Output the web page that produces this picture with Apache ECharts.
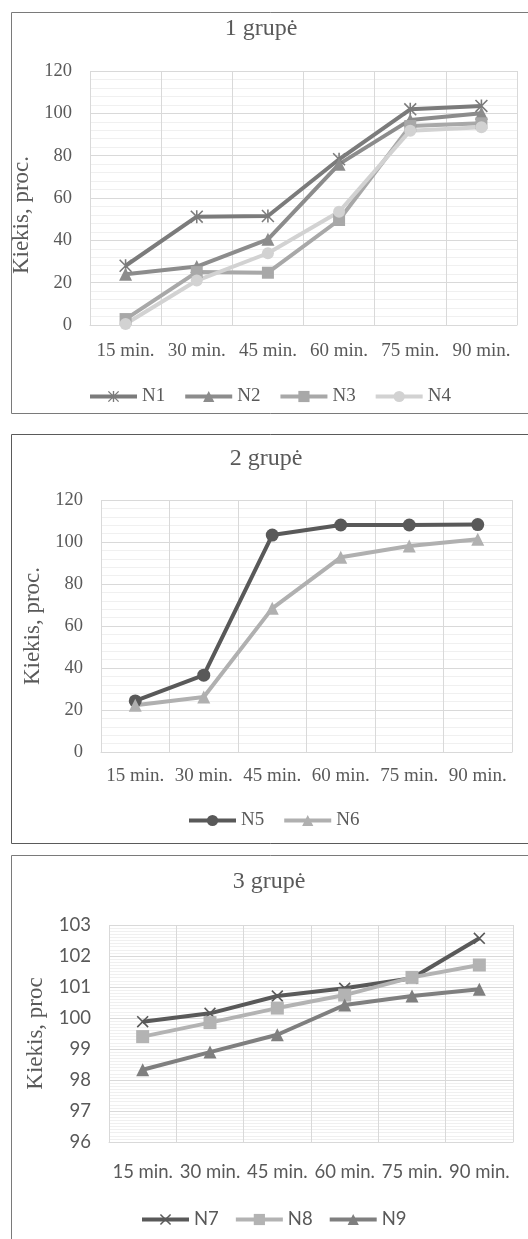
<!DOCTYPE html>
<html>
<head>
<meta charset="utf-8">
<script src="https://cdn.jsdelivr.net/npm/echarts@6/dist/echarts.min.js"></script>
<style>
  html, body { margin: 0; padding: 0; background: #fff; overflow: hidden; }
  #chart { width: 528px; height: 1239px; }
</style>
</head>
<body>
<div id="chart"></div>
<script>
// kategorijos (laikas)
const categories = ['15 min.', '30 min.', '45 min.', '60 min.', '75 min.', '90 min.']

// 1 grupe
const n1 = [28, 51.2, 51.5, 78.3, 101.9, 103.5]
const n2 = [24, 27.6, 40.5, 76, 96.9, 100]
const n3 = [2.8, 25, 24.7, 49.6, 94, 95.3]
const n4 = [0.5, 21, 33.9, 53.5, 91.8, 93.4]
const yTicks1 = [0, 20, 40, 60, 80, 100, 120]

// 2 grupe
const n5 = [24.3, 36.6, 103.3, 108.1, 108.1, 108.3]
const n6 = [22.3, 26.2, 68.4, 92.7, 98.1, 101.3]
const yTicks2 = [0, 20, 40, 60, 80, 100, 120]

// 3 grupe
const n7 = [99.88, 100.15, 100.71, 100.96, 101.28, 102.57]
const n8 = [99.4, 99.85, 100.32, 100.74, 101.31, 101.71]
const n9 = [98.33, 98.9, 99.46, 100.42, 100.71, 100.93]
const yTicks3 = [96, 97, 98, 99, 100, 101, 102, 103]

const SERIF = 'Liberation Serif'
const SANS = 'Lato'
const TXT = '#595959'
const GRID = '#d9d9d9'
const MINOR = '#f0f0f0'

const ASTERISK = 'path://M8.8 0L11.2 0L11.2 20L8.8 20Z M0 1.7L1.7 0L20 18.3L18.3 20Z M18.3 0L20 1.7L1.7 20L0 18.3Z'
const CROSS = 'path://M0 1.9L1.9 0L20 18.1L18.1 20Z M18.1 0L20 1.9L1.9 20L0 18.1Z'

const chart = echarts.init(document.getElementById('chart'))

const xAxisFor = (idx, font, size, margin) => ({
  type: 'category',
  gridIndex: idx,
  data: categories,
  axisTick: { show: false },
  axisLine: { lineStyle: { color: GRID, width: 1 } },
  splitLine: { show: true, lineStyle: { color: GRID, width: 1 } },
  axisLabel: { interval: 0, color: TXT, fontFamily: font, fontSize: size, margin: margin, hideOverlap: false }
})

const yAxisFor = (idx, ticks, font, opts) => ({
  type: 'value',
  gridIndex: idx,
  min: ticks[0],
  max: ticks[ticks.length - 1],
  interval: ticks[1] - ticks[0],
  name: opts.name,
  nameLocation: 'middle',
  nameGap: opts.nameGap,
  nameTextStyle: { color: TXT, fontFamily: SERIF, fontSize: 23, padding: opts.namePad || 0 },
  axisLine: { show: false },
  axisTick: { show: false },
  minorTick: { show: false, splitNumber: opts.minor },
  minorSplitLine: { show: true, lineStyle: { color: MINOR, width: 1 } },
  splitLine: { lineStyle: { color: GRID, width: 1 } },
  axisLabel: { color: TXT, fontFamily: font, fontSize: 18.5, margin: 18 }
})

const line = (name, data, idx, color, symbol, size) => ({
  name: name,
  type: 'line',
  xAxisIndex: idx,
  yAxisIndex: idx,
  data: data,
  symbol: symbol,
  symbolSize: size || 12,
  symbolKeepAspect: true,
  lineStyle: { color: color, width: 4 },
  itemStyle: { color: color },
  emphasis: { disabled: true },
  animation: false
})

const legendFor = (names, left, top, gap, font, size) => ({
  data: names,
  left: left,
  top: top,
  padding: 0,
  itemWidth: 47,
  itemHeight: 14,
  itemGap: gap,
  lineStyle: { width: 4 },
  textStyle: { color: TXT, fontFamily: font, fontSize: size }
})

const titleFor = (text, left, top) => ({
  text: text, left: left, top: top, textAlign: 'center', padding: 0,
  textStyle: { color: TXT, fontFamily: SERIF, fontSize: 24, fontWeight: 'normal' }
})

const option = {
  animation: false,
  graphic: [
    { type: 'rect', shape: { x: 11.5, y: 12.5, width: 530, height: 401 }, style: { fill: 'none', stroke: '#7a7a7a', lineWidth: 1 } },
    { type: 'rect', shape: { x: 11.5, y: 434.5, width: 530, height: 409 }, style: { fill: 'none', stroke: '#5a5a5a', lineWidth: 1 } },
    { type: 'rect', shape: { x: 11.5, y: 855.5, width: 530, height: 420 }, style: { fill: 'none', stroke: '#7a7a7a', lineWidth: 1 } }
  ],
  title: [
    titleFor('1 grupė', 261, 17),
    titleFor('2 grupė', 266, 447),
    titleFor('3 grupė', 269, 870)
  ],
  legend: [
    legendFor(['N1', 'N2', 'N3', 'N4'], 88, 387, 18, SERIF, 19),
    legendFor(['N5', 'N6'], 187, 811, 18, SERIF, 19),
    legendFor(['N7', 'N8', 'N9'], 140, 1210, 15, SANS, 18.5)
  ],
  grid: [
    { left: 90, top: 71, width: 427, height: 254 },
    { left: 101, top: 500, width: 411, height: 252 },
    { left: 109, top: 925, width: 404, height: 217 }
  ],
  xAxis: [
    xAxisFor(0, SERIF, 19, 17),
    xAxisFor(1, SERIF, 19, 15),
    xAxisFor(2, SANS, 18.5, 21)
  ],
  yAxis: [
    yAxisFor(0, yTicks1, SERIF, { name: 'Kiekis, proc.', nameGap: 51, minor: 5, namePad: [0, 34, 0, 0] }),
    yAxisFor(1, yTicks2, SERIF, { name: 'Kiekis, proc.', nameGap: 54, minor: 5 }),
    yAxisFor(2, yTicks3, SANS, { name: 'Kiekis, proc', nameGap: 60, minor: 10 })
  ],
  series: [
    line('N1', n1, 0, '#7b7b7b', ASTERISK, 13),
    line('N2', n2, 0, '#8c8c8c', 'triangle', 13),
    line('N3', n3, 0, '#a8a8a8', 'rect'),
    line('N4', n4, 0, '#d2d2d2', 'circle'),
    line('N5', n5, 1, '#595959', 'circle', 13),
    line('N6', n6, 1, '#b0b0b0', 'triangle', 13),
    line('N7', n7, 2, '#595959', CROSS, 12),
    line('N8', n8, 2, '#b3b3b3', 'rect', 13),
    line('N9', n9, 2, '#7f7f7f', 'triangle', 13)
  ]
}

chart.setOption(option)
</script>
</body>
</html>
